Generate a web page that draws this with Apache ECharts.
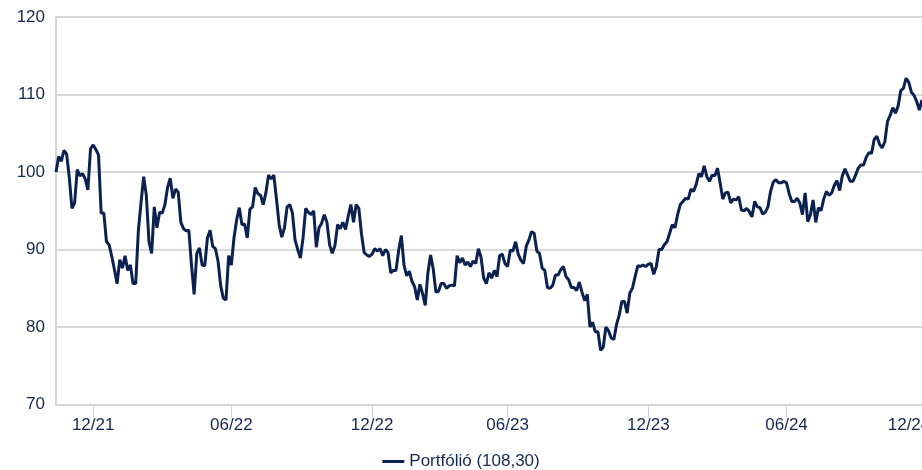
<!DOCTYPE html>
<html>
<head>
<meta charset="utf-8">
<script src="https://cdn.jsdelivr.net/npm/echarts@6/dist/echarts.min.js"></script>
<style>
  html, body { margin: 0; padding: 0; background: #fff; }
  #chart { width: 922px; height: 470px; }
</style>
</head>
<body>
<div id="chart"></div>
<script>
// portfólió teljesítmény, 2021.11 - 2024.12, kb. heti két pont
var startDate = Date.UTC(2021, 10, 10);
var stepDays = 3.5;
var seriesName = 'Portfólió (108,30)';
var yTicks = { min: 70, max: 120, step: 10 };

var values = [
  100.0, 102.0, 101.4, 102.8, 102.3, 99.3, 95.3, 96.0, 100.3, 99.5,
  99.8, 99.1, 97.7, 103.0, 103.5, 102.9, 102.2, 94.7, 94.7, 91.0,
  90.6, 89.1, 87.4, 85.6, 88.7, 87.6, 89.2, 87.3, 88.0, 85.6,
  85.6, 92.4, 96.0, 99.4, 97.0, 91.0, 89.5, 95.5, 92.8, 94.8,
  94.7, 95.8, 98.0, 99.2, 96.6, 97.8, 97.4, 93.5, 92.7, 92.4,
  92.5, 88.0, 84.2, 89.5, 90.2, 88.0, 87.9, 91.5, 92.5, 90.4,
  90.1, 88.5, 85.3, 83.7, 83.5, 89.2, 88.0, 91.5, 93.8, 95.4,
  93.2, 93.3, 91.5, 95.2, 95.5, 98.0, 97.2, 97.0, 95.8, 97.3,
  99.6, 99.1, 99.6, 96.5, 93.2, 91.6, 92.8, 95.5, 95.8, 94.7,
  91.2, 90.0, 88.9, 91.5, 95.3, 94.8, 94.5, 95.0, 90.3, 92.8,
  93.4, 94.5, 93.5, 90.6, 89.5, 90.5, 93.2, 92.7, 93.5, 92.6,
  94.3, 95.8, 93.5, 95.8, 95.3, 92.0, 89.6, 89.3, 89.1, 89.4,
  90.1, 89.8, 90.1, 89.2, 90.0, 89.6, 87.0, 87.3, 87.3, 89.9,
  91.8, 88.0, 86.6, 87.2, 85.9, 85.2, 83.5, 85.5, 84.3, 82.8,
  87.0, 89.3, 87.5, 84.5, 84.6, 85.6, 85.6, 85.0, 85.3, 85.4,
  85.3, 89.2, 88.3, 88.9, 88.0, 88.4, 87.8, 88.5, 88.2, 90.1,
  89.0, 86.3, 85.6, 87.0, 86.3, 87.3, 86.5, 89.2, 89.4, 88.2,
  87.8, 89.9, 89.8, 91.0, 89.4, 88.6, 88.2, 90.4, 91.2, 92.3,
  92.1, 89.8, 89.5, 87.6, 87.3, 85.1, 85.0, 85.4, 86.7, 86.7,
  87.4, 87.8, 86.5, 86.1, 85.1, 85.1, 84.7, 85.8, 84.5, 83.4,
  84.2, 80.0, 80.6, 79.4, 79.4, 77.0, 77.4, 80.0, 79.5, 78.6,
  78.4, 80.3, 81.5, 83.3, 83.3, 81.8, 84.4, 85.0, 86.5, 87.9,
  87.8, 88.0, 87.8, 88.1, 88.2, 86.8, 87.8, 90.0, 90.0, 90.6,
  91.0, 92.1, 93.2, 92.8, 94.5, 95.8, 96.2, 96.6, 96.5, 97.8,
  97.5, 98.4, 99.8, 99.4, 100.8, 99.4, 98.8, 99.6, 99.5, 100.5,
  98.6, 96.5, 97.3, 97.4, 96.0, 96.5, 96.4, 96.8, 95.1, 95.0,
  95.3, 94.9, 94.2, 96.2, 95.5, 95.4, 94.6, 94.8, 95.5, 97.5,
  98.7, 99.0, 98.6, 98.6, 98.8, 98.6, 97.2, 96.2, 96.2, 96.6,
  96.0, 94.5, 97.3, 93.6, 94.5, 96.4, 93.5, 95.4, 95.0, 96.5,
  97.5, 97.0, 97.3, 98.3, 98.9, 97.6, 99.5, 100.4, 99.6, 98.8,
  98.8, 99.6, 100.5, 100.9, 100.9, 101.9, 102.5, 102.4, 104.2, 104.6,
  103.6, 103.1, 103.9, 106.5, 107.3, 108.3, 107.6, 108.5, 110.5, 110.8,
  112.1, 111.6, 110.3, 109.9, 109.1, 108.0, 109.3
];

function pad(n) { return n < 10 ? '0' + n : '' + n; }

var dates = [];
for (var i = 0; i < values.length; i++) {
  var d = new Date(startDate + i * stepDays * 86400000);
  dates.push(d.getUTCFullYear() + '-' + pad(d.getUTCMonth() + 1) + '-' + pad(d.getUTCDate()));
}

// félévek vége: december és június utolsó pontja
function isHalfYearEnd(index) {
  var m = dates[index].substr(5, 2);
  if (m !== '12' && m !== '06') return false;
  if (index === dates.length - 1) return true;
  return dates[index + 1].substr(5, 2) !== m;
}

var textColor = '#14284f';
var fontFamily = '"Liberation Sans", Arial, sans-serif';
var fontSize = 17;

var myChart = echarts.init(document.getElementById('chart'));
var option = {
  animation: false,
  grid: { left: 56, right: 0, top: 17, bottom: 65.5, outerBoundsMode: 'none', containLabel: false },
  legend: {
    bottom: 0,
    left: 'center',
    padding: 0,
    icon: 'rect',
    itemWidth: 22,
    itemHeight: 3,
    itemGap: 10,
    textStyle: { color: textColor, fontSize: fontSize, fontFamily: fontFamily },
    data: [seriesName]
  },
  xAxis: {
    type: 'category',
    boundaryGap: false,
    data: dates,
    axisLine: { show: true, lineStyle: { color: '#d6d6d6', width: 2 } },
    axisTick: {
      show: true,
      length: 13,
      lineStyle: { color: '#c9d3e6', width: 1 },
      interval: function (index) {
        return index !== dates.length - 1 && isHalfYearEnd(index);
      }
    },
    axisLabel: {
      color: textColor,
      fontSize: fontSize,
      fontFamily: fontFamily,
      margin: 12,
      showMaxLabel: true,
      hideOverlap: false,
      interval: function (index) { return isHalfYearEnd(index); },
      formatter: function (value, index) {
        var s = value.substr(5, 2) + '/' + value.substr(2, 2);
        if (index === dates.length - 1) return '{last|' + s + '}';
        return s;
      },
      rich: {
        last: { color: textColor, fontSize: fontSize, fontFamily: fontFamily, padding: [0, 26, 0, 0] }
      }
    },
    splitLine: { show: false }
  },
  yAxis: {
    type: 'value',
    min: yTicks.min,
    max: yTicks.max,
    interval: yTicks.step,
    axisLine: { show: true, lineStyle: { color: '#d6d6d6', width: 2 } },
    axisTick: { show: false },
    axisLabel: { color: textColor, fontSize: fontSize, fontFamily: fontFamily, margin: 11 },
    splitLine: { lineStyle: { color: '#dadada', width: 2 } }
  },
  series: [
    {
      name: seriesName,
      type: 'line',
      data: values,
      showSymbol: false,
      symbol: 'none',
      lineStyle: { color: '#0b2150', width: 3 },
      itemStyle: { color: '#0b2150' }
    }
  ]
};
myChart.setOption(option);
</script>
</body>
</html>
